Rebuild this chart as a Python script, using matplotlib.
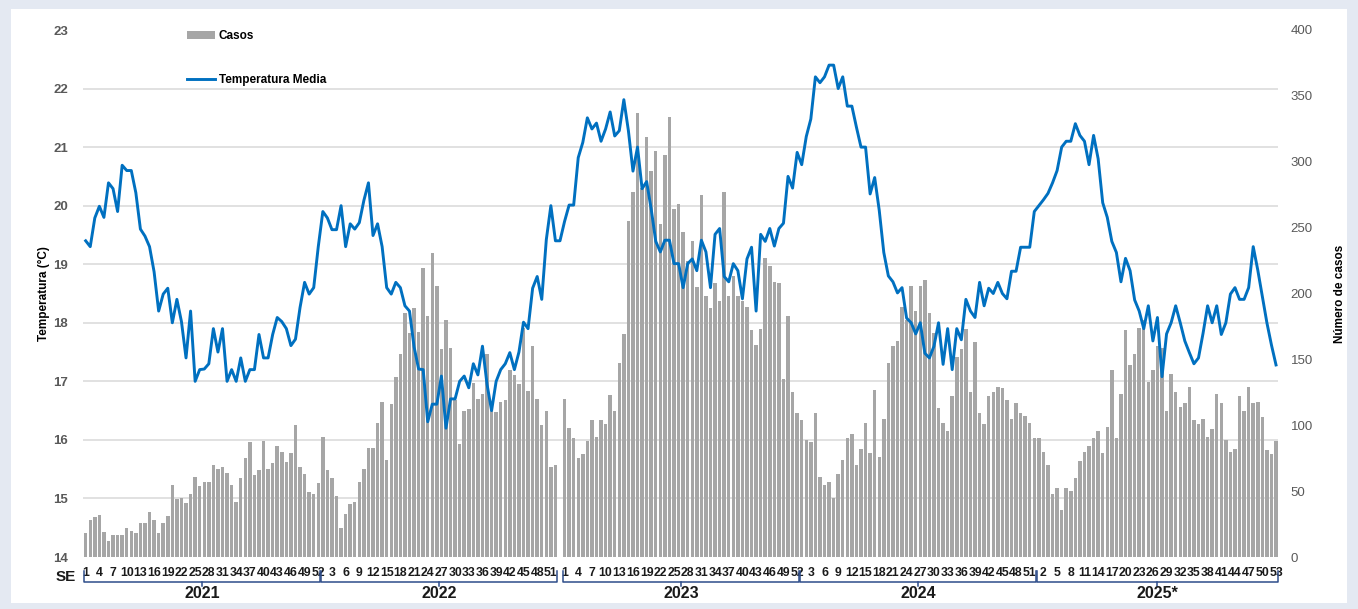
import numpy as np
import matplotlib
matplotlib.use("Agg")
import matplotlib.pyplot as plt
import matplotlib.transforms as mtransforms
from matplotlib.patches import Rectangle
from matplotlib.lines import Line2D

plt.rcParams["font.family"] = ["Liberation Sans", "DejaVu Sans"]

# ---------------------------------------------------------------------------
# Data
# ---------------------------------------------------------------------------
year_names = ["2021", "2022", "2023", "2024", "2025*"]
n_weeks = [52, 53, 52, 52, 53]   # 2022 week 53: no cases reported

cases_2021 = [18, 28, 30, 32, 19, 12, 17, 17, 17, 22, 20, 18, 26, 26, 34, 28, 18, 26,
              31, 55, 44, 45, 41, 48, 61, 54, 57, 57, 70, 67, 68, 64, 55, 42, 60, 75,
              87, 62, 66, 88, 67, 71, 84, 80, 72, 79, 100, 68, 63, 49, 48, 56]
cases_2022 = [91, 66, 60, 46, 22, 33, 40, 42, 57, 67, 83, 83, 102, 118, 74, 116, 137,
              154, 185, 170, 189, 171, 219, 183, 231, 206, 158, 180, 159, 119, 86, 111,
              112, 132, 120, 124, 154, 112, 110, 118, 119, 142, 138, 131, 174, 126, 160,
              120, 100, 111, 68, 70, None]
cases_2023 = [120, 98, 90, 75, 78, 88, 104, 91, 104, 101, 123, 111, 147, 169, 255, 277,
              337, 280, 319, 293, 308, 253, 305, 334, 264, 268, 247, 225, 240, 205, 275,
              198, 189, 208, 194, 277, 198, 213, 198, 194, 190, 172, 161, 173, 227, 221,
              209, 208, 135, 183, 125, 109]
cases_2024 = [104, 89, 87, 109, 61, 55, 57, 45, 63, 74, 90, 93, 70, 82, 102, 79, 127, 76,
              105, 147, 160, 164, 190, 180, 206, 187, 206, 210, 185, 170, 113, 102, 96,
              122, 152, 158, 173, 125, 163, 109, 101, 122, 125, 129, 128, 119, 105, 117,
              109, 107, 102, 90]
cases_2025 = [90, 80, 70, 48, 52, 36, 52, 50, 60, 73, 80, 84, 90, 96, 79, 99, 142, 90,
              124, 172, 146, 154, 174, 180, 133, 142, 160, 159, 111, 139, 125, 114, 117,
              129, 104, 101, 105, 91, 97, 124, 117, 89, 80, 82, 122, 111, 129, 117, 118,
              106, 81, 78, 88]

temp_2021 = [19.40, 19.30, 19.79, 19.99, 19.80, 20.39, 20.29, 19.90, 20.69, 20.60, 20.60,
             20.22, 19.60, 19.48, 19.30, 18.87, 18.20, 18.49, 18.59, 18.00, 18.40, 18.02,
             17.40, 18.20, 17.00, 17.20, 17.21, 17.30, 17.90, 17.50, 17.90, 17.00, 17.20,
             17.00, 17.40, 17.00, 17.20, 17.20, 17.80, 17.40, 17.40, 17.80, 18.09, 18.02,
             17.90, 17.61, 17.72, 18.26, 18.69, 18.49, 18.60, 19.30]
temp_2022 = [19.90, 19.79, 19.59, 19.59, 20.00, 19.30, 19.69, 19.60, 19.71, 20.09, 20.39,
             19.49, 19.69, 19.30, 18.60, 18.49, 18.69, 18.60, 18.29, 18.20, 17.59, 17.21,
             17.20, 16.31, 16.61, 16.61, 17.09, 16.20, 16.70, 16.70, 17.00, 17.09, 16.89,
             17.30, 17.11, 17.60, 16.95, 16.50, 17.00, 17.20, 17.30, 17.49, 17.20, 17.50,
             18.01, 17.90, 18.59, 18.79, 18.40, 19.42, 20.00, 19.40, 19.40]
temp_2023 = [19.73, 20.01, 20.01, 20.82, 21.08, 21.50, 21.31, 21.41, 21.10, 21.31, 21.60,
             21.19, 21.28, 21.81, 21.28, 20.59, 21.00, 20.29, 20.41, 19.94, 19.39, 19.21,
             19.41, 19.41, 19.01, 19.01, 18.60, 19.01, 19.09, 18.89, 19.41, 19.21, 18.60,
             19.51, 19.61, 18.79, 18.70, 19.01, 18.89, 18.41, 19.09, 19.29, 18.20, 19.51,
             19.39, 19.61, 19.31, 19.61, 19.70, 20.50, 20.30, 20.91]
temp_2024 = [20.70, 21.18, 21.48, 22.20, 22.10, 22.20, 22.40, 22.40, 22.00, 22.20, 21.70,
             21.70, 21.34, 21.00, 21.00, 20.20, 20.48, 19.92, 19.20, 18.80, 18.70, 18.51,
             18.60, 18.08, 18.00, 17.81, 18.00, 17.48, 17.40, 17.60, 18.00, 17.29, 17.90,
             17.20, 17.90, 17.71, 18.40, 18.20, 18.09, 18.69, 18.29, 18.59, 18.50, 18.69,
             18.50, 18.41, 18.88, 18.88, 19.29, 19.29, 19.29, 19.90]
temp_2025 = [20.00, 20.10, 20.21, 20.39, 20.60, 21.00, 21.10, 21.10, 21.40, 21.20, 21.10,
             20.70, 21.20, 20.80, 20.05, 19.80, 19.39, 19.20, 18.70, 19.10, 18.89, 18.39,
             18.20, 17.90, 18.29, 17.69, 18.09, 17.08, 17.81, 18.00, 18.29, 18.00, 17.69,
             17.49, 17.30, 17.40, 17.82, 18.29, 18.00, 18.29, 17.80, 18.00, 18.49, 18.60,
             18.40, 18.40, 18.60, 19.30, 18.90, 18.45, 18.00, 17.62, 17.28]

temp_ticks = list(range(14, 24))
case_ticks = list(range(0, 401, 50))

# ---------------------------------------------------------------------------
# Assemble series
# ---------------------------------------------------------------------------
cases = cases_2021 + cases_2022 + cases_2023 + cases_2024 + cases_2025
temps = temp_2021 + temp_2022 + temp_2023 + temp_2024 + temp_2025
cases = np.array([np.nan if c is None else c for c in cases], dtype=float)
weeks = [w for n in n_weeks for w in range(1, n + 1)]
x = np.arange(len(weeks))
starts = np.cumsum([0] + n_weeks[:-1])

# ---------------------------------------------------------------------------
# Figure
# ---------------------------------------------------------------------------
W, H = 1358, 609
fig = plt.figure(figsize=(W / 100, H / 100), dpi=100, facecolor="#e4e9f2")
fig.patches.append(Rectangle((11 / W, 1 - 603 / H), (1347 - 11) / W, (603 - 9) / H,
                             transform=fig.transFigure, facecolor="white",
                             edgecolor="none", zorder=-5))

left, right, top, bot = 83.4, 1278.3, 30, 557
ax_c = fig.add_axes([left / W, 1 - bot / H, (right - left) / W, (bot - top) / H])
ax_t = ax_c.twinx()
ax_c.yaxis.tick_right()
ax_c.yaxis.set_label_position("right")
ax_t.yaxis.tick_left()
ax_t.yaxis.set_label_position("left")
ax_c.patch.set_alpha(0)

# bars: cases (right axis)
ax_c.bar(x, cases, width=0.76, color="#a6a6a6", zorder=2)
ax_c.set_ylim(0, 400)
ax_c.set_xlim(-0.5, len(x) - 0.5)

# gridlines follow the temperature scale but sit behind the bars
grid_pos = [(t - 14) * 400 / 9 for t in temp_ticks]
ax_c.set_yticks(grid_pos, minor=True)
ax_c.grid(axis="y", which="minor", color="#d9d9d9", lw=1.1)
ax_c.set_axisbelow(True)
ax_c.tick_params(axis="y", which="minor", length=0)

# line: temperature (left axis)
ax_t.plot(x, temps, color="#0070c0", lw=2.1, zorder=3)
ax_t.set_ylim(14, 23)

for a in (ax_c, ax_t):
    for s in a.spines.values():
        s.set_visible(False)

ax_c.set_yticks(case_ticks)
ax_c.tick_params(axis="y", which="major", length=0, pad=9, labelsize=9.5,
                 labelcolor="#595959")
ax_t.set_yticks(temp_ticks)
ax_t.tick_params(axis="y", length=0, pad=11, labelsize=9.5, labelcolor="#595959")
for lbl in ax_t.get_yticklabels():
    lbl.set_fontweight("bold")

ax_c.set_xticks(x[::3])
ax_c.set_xticklabels([str(weeks[i]) for i in x[::3]], fontweight="bold", fontsize=8.8,
                     color="#1a1a1a")
ax_c.tick_params(axis="x", length=0, pad=7)

ax_t.set_ylabel("Temperatura (°C)", fontweight="bold", fontsize=8.5)
ax_t.yaxis.set_label_coords((49.5 - left) / (right - left), 0.5)
ax_c.set_ylabel("Número de casos", fontweight="bold", fontsize=8.5)
ax_c.yaxis.set_label_coords((1334.5 - left) / (right - left), 0.5)

# x-axis caption and year braces
ax_c.text((66 - left) / (right - left), (bot - 577) / (bot - top), "SE",
          transform=ax_c.transAxes, ha="center", va="center",
          fontweight="bold", fontsize=11, color="#1a1a1a")

trans = mtransforms.blended_transform_factory(ax_c.transData, ax_c.transAxes)
y_end = (bot - 571) / (bot - top)
y_line = (bot - 582) / (bot - top)
y_nub = (bot - 586) / (bot - top)
y_year = (bot - 594) / (bot - top)
brace_col = "#2e4d8a"
for name, s, n in zip(year_names, starts, n_weeks):
    last = s + n - 1
    if name == "2022":
        last -= 1
    x0, x1 = s - 0.35, last + 0.35
    xm = (x0 + x1) / 2
    ax_c.plot([x0, x0, x1, x1], [y_end, y_line, y_line, y_end], color=brace_col,
              lw=1.1, transform=trans, clip_on=False)
    ax_c.plot([xm, xm], [y_line, y_nub], color=brace_col, lw=1.1,
              transform=trans, clip_on=False)
    ax_c.text(xm, y_year, name, transform=trans, ha="center", va="center",
              fontweight="bold", fontsize=11.5, color="#1a1a1a")

# legend
handles = [Rectangle((0, 0), 1, 1, facecolor="#a6a6a6", edgecolor="none"),
           Line2D([], [], color="#0070c0", lw=2.1)]
leg = ax_t.legend(handles, ["Casos", "Temperatura Media"], loc="upper left",
                  bbox_to_anchor=((187 - left) / (right - left), 1.0),
                  frameon=False, borderpad=0, borderaxespad=0, handlelength=2.37,
                  handleheight=0.6, handletextpad=0.3, labelspacing=2.7,
                  prop={"weight": "bold", "size": 8.5})

fig.savefig("out.png", dpi=100, facecolor=fig.get_facecolor())
